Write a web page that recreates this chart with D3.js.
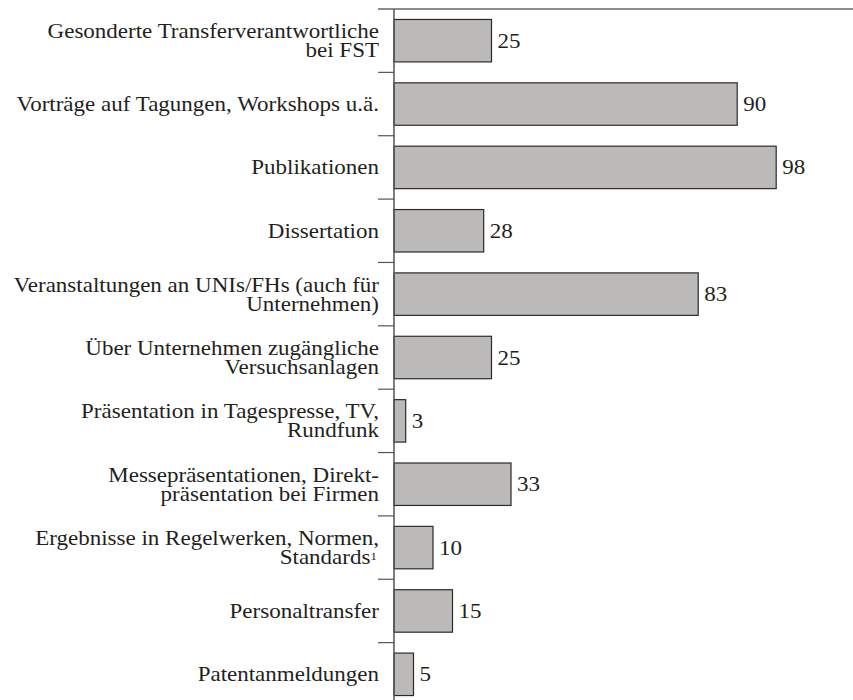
<!DOCTYPE html>
<html>
<head>
<meta charset="utf-8">
<script src="https://cdn.jsdelivr.net/npm/d3@7"></script>
<style>
  body { margin: 0; background: #fff; }
</style>
</head>
<body>
<div id="chart"></div>
<script>
// category labels, one entry per line
var categories = [
  ["Gesonderte Transferverantwortliche", "bei FST"],
  ["Vorträge auf Tagungen, Workshops u.ä."],
  ["Publikationen"],
  ["Dissertation"],
  ["Veranstaltungen an UNIs/FHs (auch für", "Unternehmen)"],
  ["Über Unternehmen zugängliche", "Versuchsanlagen"],
  ["Präsentation in Tagespresse, TV,", "Rundfunk"],
  ["Messepräsentationen, Direkt-", "präsentation bei Firmen"],
  ["Ergebnisse in Regelwerken, Normen,", "Standards"],
  ["Personaltransfer"],
  ["Patentanmeldungen"]
];
// printed numbers
var values = [25, 90, 98, 28, 83, 25, 3, 33, 10, 15, 5];
// bar lengths as drawn in the picture (same units)
var barLengths = [25, 88, 98, 23, 78, 25, 3, 30, 10, 15, 5];
// footnote marks after the last line of a label
var footnotes = ["", "", "", "", "", "", "", "", "1", "", ""];

var width = 853, height = 700;
var axisX = 394;
var serif = "'Liberation Serif', 'Times New Roman', serif";
var stretch = 1.15;

var svg = d3.select('#chart')
  .append('svg')
  .attr('width', width)
  .attr('height', height);

var ids = d3.range(categories.length);

var y = d3.scaleBand()
  .domain(ids)
  .range([9, 706])
  .paddingInner(0.33)
  .paddingOuter(0.165);

var x = d3.scaleLinear()
  .domain([0, 100])
  .range([axisX, axisX + 390]);

// top rule
svg.append('line')
  .attr('x1', 378).attr('x2', width)
  .attr('y1', y.range()[0]).attr('y2', y.range()[0])
  .attr('stroke', '#666').attr('stroke-width', 1.5);

// category separator ticks
d3.range(1, categories.length).forEach(function(i) {
  var yy = y.range()[0] + i * y.step();
  svg.append('line')
    .attr('x1', 378).attr('x2', axisX)
    .attr('y1', yy).attr('y2', yy)
    .attr('stroke', '#555').attr('stroke-width', 1.2);
});

// bars
svg.selectAll('rect.bar')
  .data(ids)
  .enter().append('rect')
  .attr('class', 'bar')
  .attr('x', x(0))
  .attr('y', function(i) { return y(i); })
  .attr('width', function(i) { return x(barLengths[i]) - x(0); })
  .attr('height', y.bandwidth())
  .attr('fill', '#bbbab8')
  .attr('stroke', '#2b2b2b')
  .attr('stroke-width', 1.2);

// axis line
svg.append('line')
  .attr('x1', axisX).attr('x2', axisX)
  .attr('y1', y.range()[0]).attr('y2', height)
  .attr('stroke', '#555').attr('stroke-width', 1.5);

// value labels
svg.selectAll('text.value')
  .data(ids)
  .enter().append('text')
  .attr('class', 'value')
  .attr('transform', function(i) {
    return 'translate(' + (x(barLengths[i]) + 6) + ',' + (y(i) + y.bandwidth() / 2) + ') scale(' + stretch + ',1)';
  })
  .attr('dy', '0.35em')
  .style('font-family', serif)
  .style('font-size', '20px')
  .style('fill', '#231f20')
  .text(function(i) { return values[i]; });

// category labels
var lineH = 19;
ids.forEach(function(i) {
  var lines = categories[i];
  var cy = y(i) + y.bandwidth() / 2;
  var t = svg.append('text')
    .attr('transform', 'translate(379,' + cy + ') scale(' + stretch + ',1)')
    .attr('text-anchor', 'end')
    .style('font-family', serif)
    .style('font-size', '20px')
    .style('fill', '#231f20');
  lines.forEach(function(l, k) {
    t.append('tspan')
      .attr('x', k === lines.length - 1 && footnotes[i] ? -2 : 0)
      .attr('y', (k - (lines.length - 1) / 2) * lineH)
      .attr('dy', '0.35em')
      .text(l);
    if (k === lines.length - 1 && footnotes[i]) {
      t.append('tspan')
        .attr('dy', '-0.4em')
        .style('font-size', '11px')
        .text(footnotes[i]);
    }
  });
});
</script>
</body>
</html>
